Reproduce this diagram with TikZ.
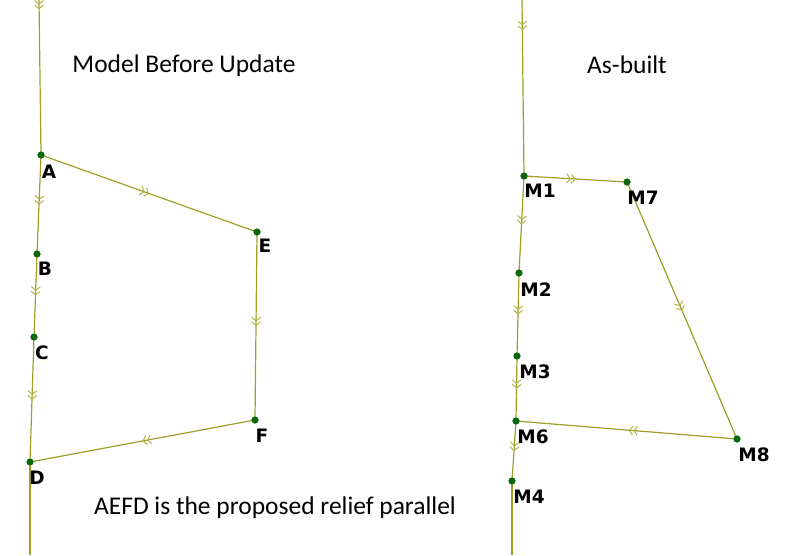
\documentclass[tikz,border=0pt]{standalone}
\usepackage{fontspec}
\setmainfont{Carlito}
\newfontfamily\lblfont{DejaVu Sans}
\usetikzlibrary{arrows.meta,decorations.markings}
\definecolor{pipe}{RGB}{158,158,40}
\definecolor{chevc}{RGB}{180,180,70}
\definecolor{dotc}{RGB}{10,105,10}
\tikzset{
  pipeline/.style={draw=pipe,line width=1.2pt},
  chev/.style={postaction={decorate},decoration={markings,mark=at position #1 with {\arrow[chevc]{Straight Barb[length=3.5pt,width=9pt,line width=1pt] Straight Barb[length=3.5pt,width=9pt,line width=1pt]}}}},
  chev/.default=0.5,
  pt/.style={circle,fill=dotc,inner sep=0pt,minimum size=7pt},
  lbl/.style={font=\lblfont\bfseries\fontsize{18.5}{18.5}\selectfont,inner sep=0pt,text=black},
  title/.style={font=\fontsize{25.5}{25.5}\selectfont,inner sep=0pt,text=black}
}
\begin{document}
\begin{tikzpicture}[x=1pt,y=-1pt]
\useasboundingbox (0,0) rectangle (800,555);
% left network
\coordinate (Ltop) at (39,0);
\coordinate (Lbot) at (30,555);
\node[pt] (A) at (41,155) {};
\node[pt] (B) at (37,254) {};
\node[pt] (C) at (34,337) {};
\node[pt] (D) at (30,462) {};
\node[pt] (E) at (257,232) {};
\node[pt] (F) at (255,420) {};
\draw[pipeline,chev=0.06] (Ltop) -- (A.center);
\draw[pipeline,chev] (A.center) -- (B.center);
\draw[pipeline,chev] (B.center) -- (C.center);
\draw[pipeline,chev] (C.center) -- (D.center);
\draw[pipeline] (D.center) -- (Lbot);
\draw[pipeline,chev] (A.center) -- (E.center);
\draw[pipeline,chev] (E.center) -- (F.center);
\draw[pipeline,chev] (F.center) -- (D.center);
\foreach \n in {A,B,C,D,E,F}{\node[pt] at (\n) {};}
\node[lbl] (lA) at (49,172) {A};
\node[lbl] (lB) at (45,269) {B};
\node[lbl] (lC) at (42,353) {C};
\node[lbl] (lD) at (37,478) {D};
\node[lbl] (lE) at (265,246) {E};
\node[lbl] (lF) at (262,436) {F};
% right network
\coordinate (Rtop) at (522,0);
\coordinate (Rbot) at (512,555);
\node[pt] (M1) at (524,176) {};
\node[pt] (M7) at (627,182) {};
\node[pt] (M2) at (519,273) {};
\node[pt] (M3) at (517,356) {};
\node[pt] (M6) at (516,421) {};
\node[pt] (M4) at (512,481) {};
\node[pt] (M8) at (737,439) {};
\draw[pipeline,chev=0.17] (Rtop) -- (M1.center);
\draw[pipeline,chev] (M1.center) -- (M7.center);
\draw[pipeline,chev] (M1.center) -- (M2.center);
\draw[pipeline,chev] (M2.center) -- (M3.center);
\draw[pipeline,chev] (M3.center) -- (M6.center);
\draw[pipeline,chev] (M6.center) -- (M4.center);
\draw[pipeline] (M4.center) -- (Rbot);
\draw[pipeline,chev] (M7.center) -- (M8.center);
\draw[pipeline,chev=0.49] (M8.center) -- (M6.center);
\foreach \n in {M1,M2,M3,M4,M6,M7,M8}{\node[pt] at (\n) {};}
\node[lbl] (lM1) at (540,191) {M1};
\node[lbl] (lM7) at (643,198) {M7};
\node[lbl] (lM2) at (536,290) {M2};
\node[lbl] (lM3) at (535,372) {M3};
\node[lbl] (lM6) at (533,437) {M6};
\node[lbl] (lM8) at (754,455) {M8};
\node[lbl] (lM4) at (529,497) {M4};
% titles
\node[title] (t1) at (184,66) {Model Before Update};
\node[title] (t2) at (627,65) {As-built};
\node[title] (t3) at (275,508) {AEFD is the proposed relief parallel};
\end{tikzpicture}
\end{document}
